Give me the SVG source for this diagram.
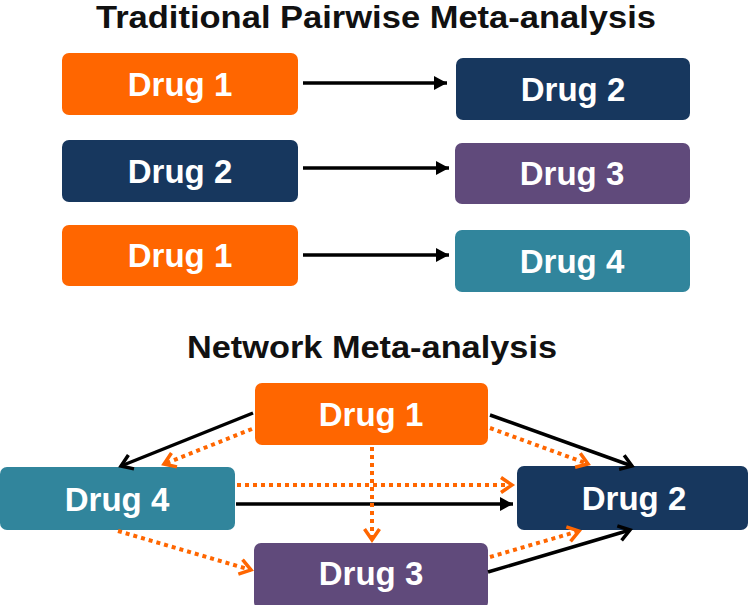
<svg xmlns="http://www.w3.org/2000/svg" width="751" height="605" viewBox="0 0 751 605">
  <style>
    .title { font-family: "Liberation Sans", Arial, sans-serif; font-weight: bold; font-size: 32px; fill: #111; text-anchor: middle; }
    .lbl { font-family: "Liberation Sans", Arial, sans-serif; font-weight: bold; font-size: 33px; fill: #fff; text-anchor: middle; }
    .orange { fill: #FF6600; }
    .navy { fill: #17375E; }
    .purple { fill: #604A7B; }
    .teal { fill: #31859C; }
    .solid { stroke: #000; stroke-width: 3.5; fill: none; }
    .dot { stroke: #FF6600; stroke-width: 4; fill: none; stroke-dasharray: 4 4; }
  </style>
  <defs>
    <marker id="tri" markerUnits="userSpaceOnUse" markerWidth="16" markerHeight="16" refX="13" refY="7" orient="auto">
      <path d="M0,0 L13,7 L0,14 Z" fill="#000"/>
    </marker>
    <marker id="chevK" markerUnits="userSpaceOnUse" markerWidth="20" markerHeight="20" refX="14" refY="9" orient="auto">
      <path d="M3,1.5 L14,9 L3,16.5" fill="none" stroke="#000" stroke-width="3.5"/>
    </marker>
    <marker id="chevO" markerUnits="userSpaceOnUse" markerWidth="20" markerHeight="20" refX="14" refY="9" orient="auto">
      <path d="M3,1.5 L14,9 L3,16.5" fill="none" stroke="#FF6600" stroke-width="3.5"/>
    </marker>
  </defs>

  <text class="title" x="376" y="28" textLength="560" lengthAdjust="spacingAndGlyphs">Traditional Pairwise Meta-analysis</text>
  <text class="title" x="372" y="358" textLength="370" lengthAdjust="spacingAndGlyphs">Network Meta-analysis</text>

  <g id="p1-drug1"><rect class="orange" x="62" y="53" width="236" height="62" rx="7"/><text class="lbl" x="180" y="96">Drug 1</text></g>
  <g id="p1-drug2"><rect class="navy" x="456" y="58" width="234" height="62" rx="7"/><text class="lbl" x="573" y="101">Drug 2</text></g>
  <g id="p2-drug2"><rect class="navy" x="62" y="140" width="236" height="62" rx="7"/><text class="lbl" x="180" y="183">Drug 2</text></g>
  <g id="p2-drug3"><rect class="purple" x="455" y="143" width="235" height="61" rx="7"/><text class="lbl" x="572" y="185">Drug 3</text></g>
  <g id="p3-drug1"><rect class="orange" x="62" y="225" width="236" height="61" rx="7"/><text class="lbl" x="180" y="267">Drug 1</text></g>
  <g id="p3-drug4"><rect class="teal" x="455" y="230" width="235" height="62" rx="7"/><text class="lbl" x="572" y="273">Drug 4</text></g>

  <g id="n-drug1"><rect class="orange" x="255" y="383" width="233" height="62" rx="7"/><text class="lbl" x="371" y="426">Drug 1</text></g>
  <g id="n-drug4"><rect class="teal" x="0" y="467" width="235" height="63" rx="7"/><text class="lbl" x="117" y="511">Drug 4</text></g>
  <g id="n-drug2"><rect class="navy" x="517" y="466" width="231" height="64" rx="7"/><text class="lbl" x="634" y="510">Drug 2</text></g>
  <g id="n-drug3"><rect class="purple" x="254" y="543" width="234" height="66" rx="7"/><text class="lbl" x="371" y="585">Drug 3</text></g>

  <g id="connectors">
    <line class="solid" x1="303" y1="83" x2="447" y2="83" marker-end="url(#tri)"/>
    <line class="solid" x1="303" y1="168" x2="449" y2="168" marker-end="url(#tri)"/>
    <line class="solid" x1="303" y1="255" x2="449" y2="255" marker-end="url(#tri)"/>

    <line class="solid" x1="253" y1="413" x2="121" y2="466" marker-end="url(#chevK)"/>
    <line class="solid" x1="490" y1="415" x2="632" y2="466" marker-end="url(#chevK)"/>
    <line class="solid" x1="488" y1="572" x2="630" y2="530" marker-end="url(#chevK)"/>
    <line class="solid" x1="236" y1="504" x2="513" y2="504" marker-end="url(#tri)"/>

    <line class="dot" x1="252" y1="429" x2="164" y2="464" marker-end="url(#chevO)"/>
    <line class="dot" x1="490" y1="428" x2="588" y2="464" marker-end="url(#chevO)"/>
    <line class="dot" x1="372" y1="447" x2="372" y2="540" marker-end="url(#chevO)"/>
    <line class="dot" x1="237" y1="485" x2="512" y2="485" marker-end="url(#chevO)"/>
    <line class="dot" x1="118" y1="531" x2="251" y2="570" marker-end="url(#chevO)"/>
    <line class="dot" x1="490" y1="557" x2="579" y2="531" marker-end="url(#chevO)"/>
  </g>
</svg>
